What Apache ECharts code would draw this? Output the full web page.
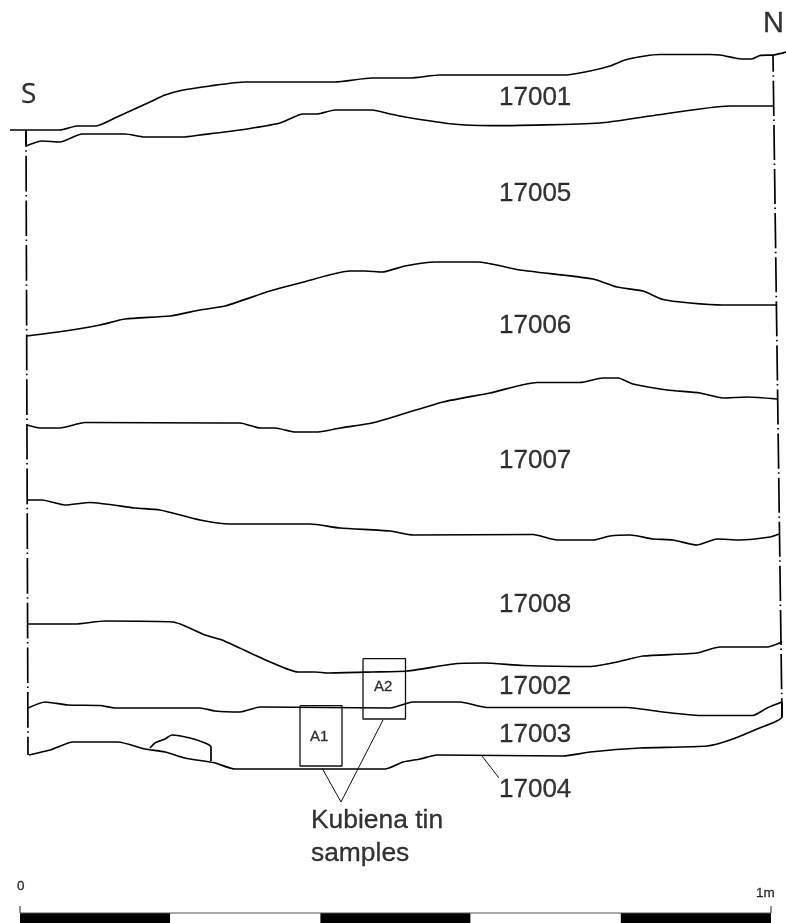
<!DOCTYPE html>
<html><head><meta charset="utf-8">
<style>html,body{margin:0;padding:0;background:#fff}#c{width:786px;height:923px}</style>
<script src="https://cdn.jsdelivr.net/npm/echarts@6/dist/echarts.min.js"></script>
</head><body><div id="c"></div>
<script>
const surface17001=[[10,130],[60,130],[77,126],[96,126],[117,117],[150,102],[165,95],[181,90.5],[210,86],[245,82],[290,82],[335,82],[372,78],[410,78],[440,75],[565,75],[590,71],[610,66],[625,60],[645,56],[660,54.5],[710,54.5],[720,55],[735,58],[742,59],[752,59],[760,55.5],[773,55],[786,52]];
const base17001=[[26,146],[42,141],[60,142],[82,134],[125,134],[145,137],[183,137],[200,135],[240,130],[280,123],[303,114],[317,114],[335,110],[372,110],[390,114],[405,117],[453,124],[490,125.7],[600,123],[650,116],[730,106],[773,106]];
const base17005=[[27,336],[65,331],[100,325],[125,319],[170,316],[200,310],[225,306],[270,291],[300,283],[350,271],[365,271],[382,272],[405,266],[435,262],[478,262],[520,270],[593,279],[617,287],[643,291],[663,299.5],[690,303],[723,305],[777,305]];
const base17006=[[27,425],[40,428],[60,428],[85,422.5],[220,423],[240,423],[260,428],[275,428],[295,432],[318,432],[340,428],[372,423],[390,418],[443,402],[490,393],[537,382.5],[580,382.5],[603,378],[618,378],[633,384],[667,390],[700,393],[723,398],[747,397],[777,399]];
const base17007=[[27,500],[42,500],[65,505],[90,502.5],[135,508],[160,510],[200,520],[230,524],[310,524],[340,528],[390,531],[413,535],[533,534.5],[557,540],[593,540],[610,536],[630,535],[653,539],[673,540],[697,545],[717,539],[740,540],[770,537],[779,534]];
const base17008=[[28,624],[75,624],[105,621],[173,622],[205,635],[222,640],[268,661],[298,672],[315,672],[328,673],[372,672],[407,671],[457,663.5],[483,663],[523,665.5],[590,666.5],[617,662],[643,656],[697,653],[720,647],[767,647],[782,642]];
const base17002=[[28,708],[45,702],[68,705],[100,705.5],[115,708],[200,708],[215,711],[240,712],[260,707],[390,708],[413,702],[460,702],[487,707.5],[627,707.5],[663,712],[700,715.5],[753,715.5],[767,708],[782,702]];
const base17003=[[29,755],[50,750],[73,742],[118,742],[145,749],[165,752],[185,758],[215,763],[235,769],[385,769],[403,762],[420,759],[437,755],[563,756],[590,752],[640,748],[707,746],[730,740],[757,729],[782,717],[782,702]];
const stone=[[150,748],[155,743],[165,739],[172,735],[190,738],[205,743],[211,747],[211,761]];
const edgeSouth=[[26,130],[28,755]];
const edgeNorth=[[773,55],[782,717]];
const edgeSouthTick=[[26,130],[26,146]];
const sampleA1=[[300,705.7],[342,705.7],[342,766],[300,766],[300,705.7]];
const sampleA2=[[363,658.7],[405.5,658.7],[405.5,719],[363,719],[363,658.7]];
const leaderSamples=[[322,768],[341,802],[383,720]];
const leader17004=[[482,756],[499,778]];
const scaleTickStart=[[20,906],[20,913]];
const scaleTickEnd=[[771,906],[771,913]];
const contextNames=['17001','17005','17006','17007','17008','17002','17003','17004'];
const contextX=[499,499,499,499,499,499,499,499];
const contextY=[98,194,326,461,605,687,735,790];
const southName=['S'];
const southX=[21];
const southY=[95];
const northName=['N'];
const northX=[763];
const northY=[24];
const sampleNames=['A1','A2'];
const sampleX=[310,374];
const sampleY=[737,687];
const noteLines=['Kubiena tin','samples'];
const noteX=[311,311];
const noteY=[821,854];
const scaleNames=['0','1m'];
const scaleNameX=[17,756];
const scaleNameY=[886,893];
const scaleEdges=[0,0.2,0.4,0.6,0.8,1];
const scaleFill=[1,0,1,0,1];

const ink='#000';
const lineSeries=(d,w,c,extra)=>Object.assign({type:'line',xAxisIndex:0,yAxisIndex:0,data:d,showSymbol:false,symbol:'none',clip:false,silent:true,smooth:0.2,lineStyle:{color:c||ink,width:w||1.7,join:'round'}},extra||{});
const straight=(d,w,c)=>lineSeries(d,w,c,{smooth:false});
const dashed=(d,period,offset)=>lineSeries(d,1.7,ink,{smooth:false,lineStyle:{color:ink,width:1.7,type:[period-9,3.5,1.5,4],dashOffset:offset}});
const textSeries=(names,xs,ys,font,size)=>({type:'scatter',xAxisIndex:0,yAxisIndex:0,symbolSize:0,silent:true,clip:false,
  itemStyle:{color:'transparent'},
  label:{show:true,position:'right',distance:0,color:'#000',textBorderColor:'#000',textBorderWidth:0.3,fontFamily:font,fontSize:size,formatter:p=>p.data[2]},
  data:names.map((n,i)=>[xs[i],ys[i],n])});

const chart=echarts.init(document.getElementById('c'),null,{renderer:'canvas'});
chart.setOption({
  animation:false,backgroundColor:'#fff',
  grid:[{left:0,top:0,width:786,height:923},{left:20,top:913,width:751,height:10}],
  xAxis:[{type:'value',min:0,max:786,show:false,gridIndex:0},{type:'value',min:0,max:1,show:false,gridIndex:1}],
  yAxis:[{type:'value',min:0,max:923,inverse:true,show:false,gridIndex:0},{type:'value',min:0,max:1,show:false,gridIndex:1}],
  series:[
    lineSeries(surface17001),lineSeries(base17001),lineSeries(base17005),lineSeries(base17006),
    lineSeries(base17007),lineSeries(base17008),lineSeries(base17002),lineSeries(base17003),lineSeries(stone),
    dashed(edgeSouth,44.7,19),dashed(edgeNorth,44.1,18.3),straight(edgeSouthTick,1.7),
    straight(sampleA1,1.3,'#111'),straight(sampleA2,1.3,'#111'),
    straight(leaderSamples,1,'#111'),straight(leader17004,1,'#111'),
    straight(scaleTickStart,1,'#222'),straight(scaleTickEnd,1,'#222'),
    textSeries(contextNames,contextX,contextY,'Liberation Sans',26),
    textSeries(southName,southX,southY,'Open Sans',28),
    textSeries(northName,northX,northY,'Liberation Sans',29),
    textSeries(sampleNames,sampleX,sampleY,'Liberation Sans',15),
    textSeries(noteLines,noteX,noteY,'Liberation Sans',26.4),
    textSeries(scaleNames,scaleNameX,scaleNameY,'Liberation Sans',13.5),
    {type:'custom',xAxisIndex:1,yAxisIndex:1,silent:true,clip:false,
     data:scaleFill.map((f,i)=>[scaleEdges[i],scaleEdges[i+1],f]),
     encode:{x:[0,1]},
     renderItem:(params,api)=>{
       const a=api.coord([api.value(0),1]),b=api.coord([api.value(1),0]);
       return {type:'rect',shape:{x:a[0],y:a[1],width:b[0]-a[0],height:b[1]-a[1]},
         style:{fill:api.value(2)?'#000':'#fff'}};
     }},
    {type:'line',xAxisIndex:1,yAxisIndex:1,data:[[0,1],[1,1]],showSymbol:false,symbol:'none',clip:false,silent:true,lineStyle:{color:'#555',width:1}}
  ]
});
</script></body></html>
